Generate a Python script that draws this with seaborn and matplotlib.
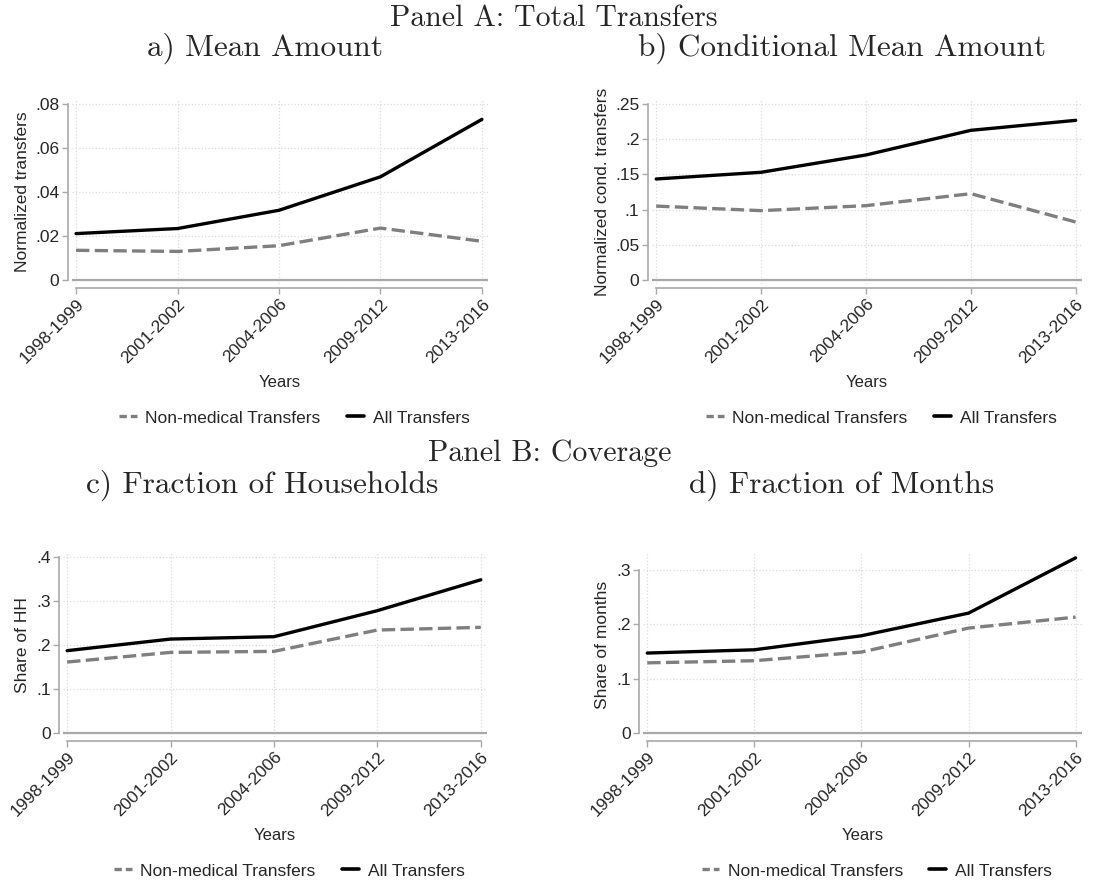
import matplotlib
matplotlib.use("Agg")
import matplotlib.pyplot as plt
from matplotlib.lines import Line2D
import seaborn as sns
import pandas as pd

periods = ["1998-1999", "2001-2002", "2004-2006", "2009-2012", "2013-2016"]

mean_all = [0.0211, 0.0234, 0.0317, 0.0469, 0.0730]
mean_nonmed = [0.0135, 0.0130, 0.0156, 0.0236, 0.0176]
cond_all = [0.1435, 0.1530, 0.1776, 0.2126, 0.2268]
cond_nonmed = [0.1050, 0.0985, 0.1056, 0.1226, 0.0824]
hh_all = [0.1876, 0.2140, 0.2194, 0.2787, 0.3490]
hh_nonmed = [0.1617, 0.1837, 0.1860, 0.2346, 0.2407]
months_all = [0.1470, 0.1530, 0.1788, 0.2204, 0.3220]
months_nonmed = [0.1290, 0.1329, 0.1488, 0.1929, 0.2131]

series_names = ["Non-medical Transfers", "All Transfers"]

sns.set_theme(style="white")
plt.rcParams["font.family"] = ["Liberation Sans", "DejaVu Sans"]

W, H = 1102, 882
fig = plt.figure(figsize=(W / 100, H / 100), dpi=100)

GRAY = "#7f7f7f"
AXGRAY = "#a9a9a9"

# pixel boxes: left, top, right, bottom ; title centre x, y
panels = [
    dict(box=(72, 100, 488, 284), nonmed=mean_nonmed, all=mean_all,
         ylim=(-0.0018, 0.0818), yticks=[0, 0.02, 0.04, 0.06, 0.08],
         ylabel="Normalized transfers", title="a) Mean Amount", tx=265, ty=48),
    dict(box=(652, 100, 1082, 284), nonmed=cond_nonmed, all=cond_all,
         ylim=(-0.0057, 0.2557), yticks=[0, 0.05, 0.1, 0.15, 0.2, 0.25],
         ylabel="Normalized cond. transfers", title="b) Conditional Mean Amount", tx=842, ty=48),
    dict(box=(63, 553, 487, 737), nonmed=hh_nonmed, all=hh_all,
         ylim=(-0.009, 0.41), yticks=[0, 0.1, 0.2, 0.3, 0.4],
         ylabel="Share of HH", title="c) Fraction of Households", tx=262, ty=485),
    dict(box=(643, 553, 1082, 737), nonmed=months_nonmed, all=months_all,
         ylim=(-0.0074, 0.331), yticks=[0, 0.1, 0.2, 0.3],
         ylabel="Share of months", title="d) Fraction of Months", tx=842, ty=485),
]


def stata_fmt(v):
    s = f"{v:g}"
    return s[1:] if s.startswith("0.") else s


for p in panels:
    l, t, r, b = p["box"]
    ax = fig.add_axes([l / W, 1 - b / H, (r - l) / W, (b - t) / H])
    df = pd.DataFrame({
        "pos": list(range(len(periods))) * 2,
        "value": p["nonmed"] + p["all"],
        "series": [series_names[0]] * len(periods) + [series_names[1]] * len(periods),
    })
    ax.axhline(0, color=AXGRAY, lw=1.6, zorder=1)
    sns.lineplot(data=df, x="pos", y="value", hue="series", style="series",
                 palette={series_names[0]: GRAY, series_names[1]: "black"},
                 dashes={series_names[0]: (4, 1.6), series_names[1]: ""},
                 linewidth=2.4, legend=False, ax=ax, zorder=3)
    ax.set_xlim(-0.04, 4.06)
    ax.set_ylim(*p["ylim"])
    ax.set_xticks(range(len(periods)))
    ax.set_xticklabels(periods)
    ax.set_yticks(p["yticks"])
    ax.set_yticklabels([stata_fmt(v) for v in p["yticks"]])
    ax.grid(True, color="#dcdcdc", linestyle=":", linewidth=0.9)
    ax.tick_params(axis="both", labelsize=12.5, length=4, width=1, color=AXGRAY,
                   pad=2, bottom=True, left=True)
    ax.set_xlabel("Years", fontsize=12, labelpad=6)
    ax.set_ylabel(p["ylabel"], fontsize=12.5, labelpad=4)
    sns.despine(ax=ax, offset=3, trim=True)
    plt.setp(ax.get_xticklabels(), rotation=45, ha="right", rotation_mode="anchor")
    for s in ["left", "bottom"]:
        ax.spines[s].set_color(AXGRAY)
        ax.spines[s].set_linewidth(1.2)

    handles = [Line2D([], [], color=GRAY, lw=2.4, dashes=(2.2, 1.2)),
               Line2D([], [], color="black", lw=2.6)]
    ax.legend(handles, series_names, loc="center", ncol=2, frameon=False,
              fontsize=12.5, handlelength=1.0, columnspacing=1.5, handletextpad=0.5,
              bbox_to_anchor=((l + r) / 2 / W + 0.013, 1 - (b + 134) / H),
              bbox_transform=fig.transFigure)

    fig.text(p["tx"] / W, 1 - p["ty"] / H, p["title"], ha="center", va="center",
             fontsize=22.5, family="cmr10")

fig.text(554 / W, 1 - 18 / H, "Panel A: Total Transfers", ha="center", va="center",
         fontsize=21.5, family="cmr10")
fig.text(550 / W, 1 - 453 / H, "Panel B: Coverage", ha="center", va="center",
         fontsize=21.5, family="cmr10")

fig.savefig("out.png", dpi=100, facecolor="white")
